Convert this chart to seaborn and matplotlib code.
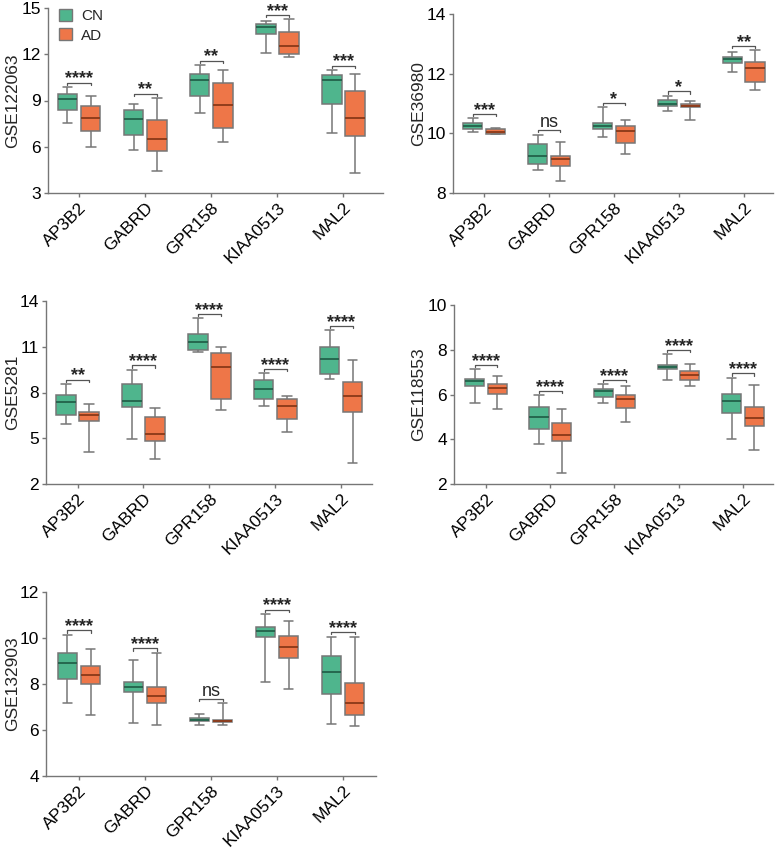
import matplotlib
matplotlib.use('Agg')
import matplotlib.pyplot as plt
import seaborn as sns
import pandas as pd
from matplotlib.patches import Patch

sns.set_style('ticks')
plt.rcParams['font.family'] = ['Liberation Sans', 'DejaVu Sans']

genes = ['AP3B2', 'GABRD', 'GPR158', 'KIAA0513', 'MAL2']
groups = ['CN', 'AD']

# five-number summaries per gene: min, q1, median, q3, max
gse122063_cn = [[7.51, 8.36, 9.10, 9.40, 9.86], [5.80, 6.73, 7.80, 8.36, 8.77],
                [8.16, 9.31, 10.31, 10.70, 11.29], [12.07, 13.29, 13.74, 13.96, 14.13],
                [6.86, 8.79, 10.31, 10.64, 10.96]]
gse122063_ad = [[5.97, 7.04, 7.84, 8.62, 9.29], [4.45, 5.73, 6.49, 7.71, 9.16],
                [6.28, 7.21, 8.69, 10.14, 11.01], [11.81, 12.03, 12.53, 13.46, 14.26],
                [4.32, 6.67, 7.88, 9.64, 10.70]]
gse122063_sig = ['****', '**', '**', '***', '***']

gse36980_cn = [[10.03, 10.16, 10.25, 10.34, 10.50], [8.78, 8.98, 9.24, 9.65, 9.96],
               [9.89, 10.14, 10.25, 10.33, 10.87], [10.76, 10.92, 11.00, 11.12, 11.26],
               [12.04, 12.35, 12.50, 12.56, 12.71]]
gse36980_ad = [[9.97, 9.98, 10.06, 10.14, 10.18], [8.41, 8.92, 9.13, 9.25, 9.71],
               [9.31, 9.68, 10.09, 10.23, 10.46], [10.46, 10.87, 10.92, 10.97, 11.10],
               [11.45, 11.72, 12.19, 12.38, 12.78]]
gse36980_sig = ['***', 'ns', '*', '*', '**']

gse5281_cn = [[5.92, 6.53, 7.39, 7.85, 8.55], [4.98, 7.06, 7.47, 8.55, 9.49],
              [10.63, 10.80, 11.28, 11.81, 12.86], [7.10, 7.58, 8.20, 8.81, 9.25],
              [8.88, 9.20, 10.17, 10.98, 12.07]]
gse5281_ad = [[4.10, 6.10, 6.51, 6.75, 7.26], [3.62, 4.85, 5.29, 6.40, 7.01],
              [6.82, 7.56, 9.64, 10.56, 10.96], [5.44, 6.23, 7.12, 7.56, 7.78],
              [3.38, 6.71, 7.76, 8.72, 10.10]]
gse5281_sig = ['**', '****', '****', '****', '****']

gse118553_cn = [[5.61, 6.40, 6.60, 6.69, 7.12], [3.78, 4.45, 5.01, 5.43, 5.96],
                [5.63, 5.91, 6.15, 6.25, 6.46], [6.64, 7.12, 7.24, 7.34, 7.79],
                [3.99, 5.19, 5.72, 6.03, 6.75]]
gse118553_ad = [[5.37, 6.03, 6.27, 6.45, 6.84], [2.49, 3.94, 4.18, 4.72, 5.37],
                [4.78, 5.40, 5.79, 5.97, 6.37], [6.40, 6.64, 6.88, 7.07, 7.37],
                [3.54, 4.60, 4.93, 5.42, 6.43]]
gse118553_sig = ['****', '****', '****', '****', '****']

gse132903_cn = [[7.19, 8.22, 8.93, 9.36, 10.14], [6.32, 7.67, 7.88, 8.10, 9.04],
                [6.20, 6.39, 6.45, 6.51, 6.70], [8.09, 10.03, 10.30, 10.48, 11.03],
                [6.25, 7.57, 8.54, 9.23, 10.03]]
gse132903_ad = [[6.67, 7.99, 8.41, 8.80, 9.54], [6.22, 7.19, 7.49, 7.87, 9.36],
                [6.23, 6.35, 6.41, 6.45, 7.17], [7.80, 9.14, 9.61, 10.07, 10.74],
                [6.16, 6.67, 7.16, 8.04, 10.06]]
gse132903_sig = ['****', '****', 'ns', '****', '****']

datasets = ['GSE122063', 'GSE36980', 'GSE5281', 'GSE118553', 'GSE132903']
cn_data = [gse122063_cn, gse36980_cn, gse5281_cn, gse118553_cn, gse132903_cn]
ad_data = [gse122063_ad, gse36980_ad, gse5281_ad, gse118553_ad, gse132903_ad]
sig_data = [gse122063_sig, gse36980_sig, gse5281_sig, gse118553_sig, gse132903_sig]
y_limits = [(3, 15), (8, 14), (2, 14), (2, 10), (4, 12)]
y_ticks = [[3, 6, 9, 12, 15], [8, 10, 12, 14], [2, 5, 8, 11, 14], [2, 4, 6, 8, 10], [4, 6, 8, 10, 12]]

# panel boxes in pixels: left, top, right, bottom
W, H = 777, 848
rects = [(48, 8, 383, 193), (453, 14, 773, 193), (46, 301, 372, 484),
         (454, 305, 773, 484), (46, 592, 376, 776)]
xlims = [(-0.47, 4.6), (-0.48, 4.45), (-0.48, 4.47), (-0.5, 4.47), (-0.5, 4.5)]
label_x = [20, 426, 20, 426, 20]  # pixel x of the y-label baseline side

box_colors = {'CN': '#4fb58d', 'AD': '#ee7648'}
median_colors = ['#22614a', '#8a3818']
edge = '#767676'

fig = plt.figure(figsize=(W / 100, H / 100), dpi=100)

for k, name in enumerate(datasets):
    rows = []
    for g, gene in enumerate(genes):
        for v in cn_data[k][g]:
            rows.append((gene, 'CN', v))
        for v in ad_data[k][g]:
            rows.append((gene, 'AD', v))
    df = pd.DataFrame(rows, columns=['gene', 'group', 'value'])

    l, t, r, b = rects[k]
    ax = fig.add_axes([l / W, 1 - b / H, (r - l) / W, (b - t) / H])
    sns.boxplot(data=df, x='gene', y='value', hue='group', order=genes, hue_order=groups,
                palette=box_colors, saturation=1, whis=(0, 100), showfliers=False,
                width=0.7, gap=0.15, linecolor=edge, linewidth=1.1, legend=False, ax=ax)
    for cont, mc in zip(ax.containers, median_colors):
        for line in cont.medians:
            line.set_color(mc)
            line.set_linewidth(1.3)

    lo, hi = y_limits[k]
    rng = hi - lo
    for g, gene in enumerate(genes):
        top = max(cn_data[k][g][4], ad_data[k][g][4])
        y = top + 0.024 * rng
        h = 0.012 * rng
        ax.plot([g - 0.175, g - 0.175, g + 0.175, g + 0.175], [y - h, y, y, y - h],
                color='#555555', lw=0.9)
        s = sig_data[k][g]
        if s == 'ns':
            ax.annotate(s, xy=(g, y), xytext=(0, 2), textcoords='offset points',
                        ha='center', va='baseline', fontsize=13)
        else:
            ax.annotate(s, xy=(g, y), xytext=(0, -0.5), textcoords='offset points',
                        ha='center', va='baseline', fontsize=13, fontweight='bold')

    ax.set_ylim(lo, hi)
    ax.set_yticks(y_ticks[k])
    ax.set_xlim(*xlims[k])
    ax.set_xlabel('')
    ax.set_ylabel(name, fontsize=12.5)
    ax.yaxis.set_label_coords((label_x[k] - l) / (r - l), 0.5)
    ax.tick_params(axis='both', direction='out', length=3, width=1, color=edge,
                   labelsize=12.5, labelcolor='black', pad=2)
    for side in ['left', 'bottom']:
        ax.spines[side].set_color(edge)
        ax.spines[side].set_linewidth(1)
    sns.despine(ax=ax)
    plt.setp(ax.get_xticklabels(), rotation=45, ha='right', rotation_mode='anchor')

    if k == 0:
        handles = [Patch(facecolor=box_colors[gr], edgecolor=edge, lw=1) for gr in groups]
        ax.legend(handles, groups, loc='upper left', bbox_to_anchor=(0.015, 1.03),
                  frameon=False, fontsize=11, handlelength=0.85, handleheight=0.85,
                  handletextpad=0.6, labelspacing=0.35, borderaxespad=0)

fig.savefig('out.png', dpi=100)
